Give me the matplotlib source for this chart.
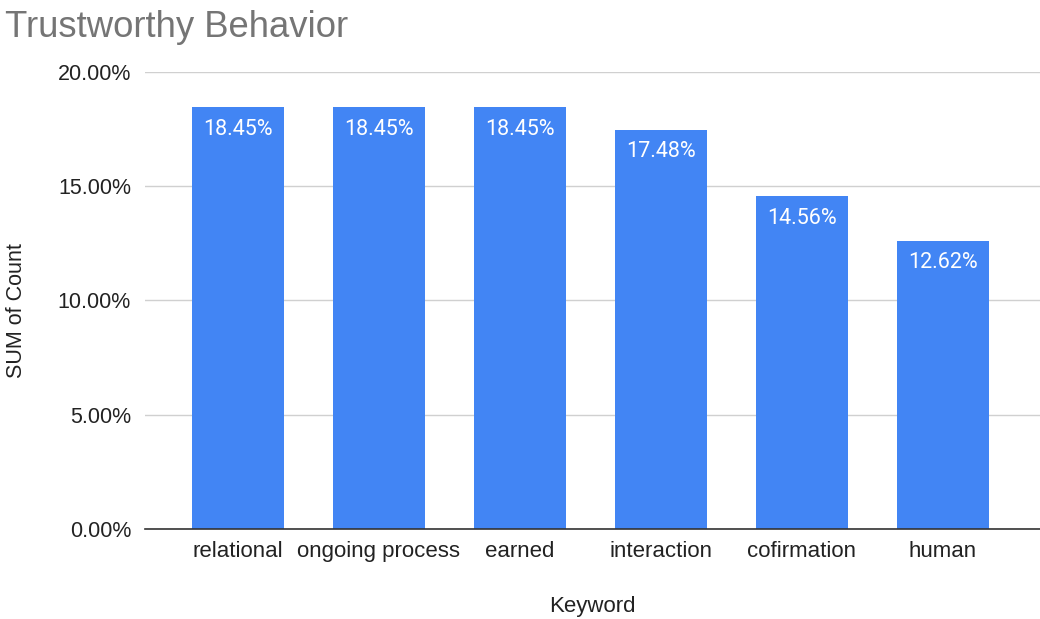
import matplotlib
matplotlib.use("Agg")
import matplotlib.pyplot as plt
from matplotlib.ticker import FuncFormatter

keywords = ["relational", "ongoing process", "earned", "interaction", "cofirmation", "human"]
shares = [18.45, 18.45, 18.45, 17.48, 14.56, 12.62]
y_ticks = [0, 5, 10, 15, 20]

plt.rcParams["font.family"] = ["Liberation Sans", "DejaVu Sans"]

fig = plt.figure(figsize=(10.4, 6.19), dpi=100)
ax = fig.add_axes([0.1394, 0.1454, 0.8606, 0.7383])

xs = range(len(keywords))
bars = ax.bar(xs, shares, width=0.65, color="#4285F4", zorder=3)

for bar, v in zip(bars, shares):
    ax.text(bar.get_x() + bar.get_width() / 2, v - 0.5, f"{v:.2f}%",
            ha="center", va="top", color="white", fontsize=15.5,
            family=["Roboto", "DejaVu Sans"], zorder=4)

ax.set_xlim(-0.66, 5.69)
ax.set_ylim(0, 20)
ax.set_yticks(y_ticks)
ax.yaxis.set_major_formatter(FuncFormatter(lambda v, _: f"{v:.2f}%"))
ax.set_xticks(list(xs))
ax.set_xticklabels(keywords, fontsize=16)
ax.grid(axis="y", color="#d0d0d0", linewidth=1, zorder=0)
ax.tick_params(axis="both", length=0, labelcolor="#222222")
ax.tick_params(axis="y", labelsize=15.5, pad=10)
ax.tick_params(axis="x", pad=9)

for side in ["top", "right", "left"]:
    ax.spines[side].set_visible(False)
ax.spines["bottom"].set_color("#333333")
ax.spines["bottom"].set_linewidth(1.2)
ax.spines["bottom"].set_zorder(5)

ax.set_ylabel("SUM of Count", fontsize=15.5, color="#222222")
ax.yaxis.set_label_coords(-0.132, 0.479)
ax.set_xlabel("Keyword", fontsize=16, color="#222222", labelpad=24)

fig.text(0.005, 0.94, "Trustworthy Behavior", fontsize=26.3, color="#757575",
         ha="left", va="baseline")

fig.savefig("out.png", dpi=100)
plt.close(fig)
